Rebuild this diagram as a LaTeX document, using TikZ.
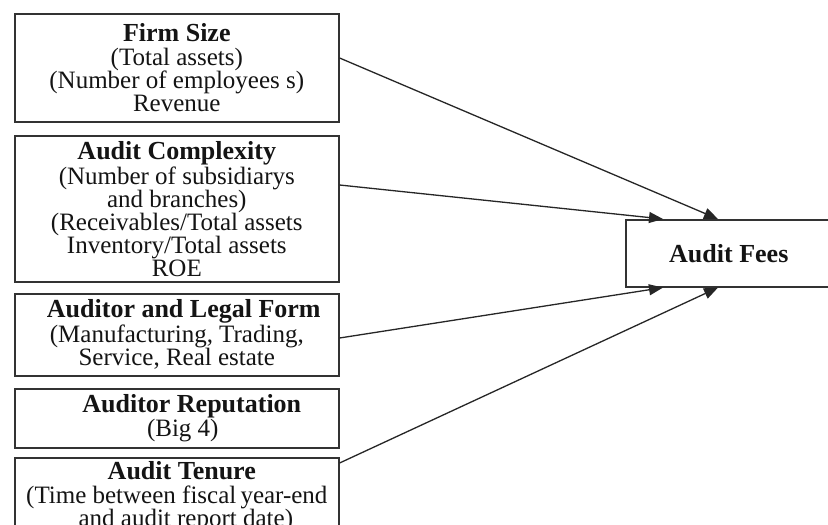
\documentclass[tikz,border=0pt]{standalone}
\usepackage{fontspec}
\setmainfont{Liberation Serif}
\usetikzlibrary{arrows.meta,calc}
\newcommand{\ttl}[1]{{\fontsize{26}{23}\selectfont\bfseries #1}}
\begin{document}
\begin{tikzpicture}[x=1pt,y=-1pt,
  factor/.style={draw=black!80, line width=1.6pt, minimum width=324pt, anchor=north west,
    align=center, inner sep=0pt, text=black!92, font=\fontsize{25}{23}\selectfont},
  link/.style={draw=black!85, line width=1.3pt, -{Triangle[length=14pt,width=11pt]}},
]
\useasboundingbox (0,0) rectangle (828,525);
\fill[white] (0,0) rectangle (828,525);
\clip (0,0) rectangle (828,525);
\node[factor, minimum height=108pt] (size) at (14,13)
  {\ttl{Firm Size}\\[1.5pt](Total assets)\\(Number of employees s)\\Revenue};
\node[factor, minimum height=146pt] (cplx) at (14,135)
  {\ttl{Audit Complexity}\\[0.5pt](Number of subsidiarys\\and branches)\\(Receivables/Total assets\\Inventory/Total assets\\ROE};
\node[factor, minimum height=82pt] (legal) at (14,293)
  {\hspace*{14pt}\ttl{Auditor and Legal Form}\\[0.5pt](Manufacturing, Trading,\hspace*{24pt}\\Service, Real estate};
\node[factor, minimum height=59pt] (rep) at (14,388)
  {\hspace*{30pt}\ttl{Auditor Reputation}\\[1.5pt]\hspace*{12pt}(Big 4)};
\node[factor, minimum height=78pt] (tenure) at (14,457)
  {\hspace*{10pt}\ttl{Audit Tenure}\\[0.5pt](Time between fiscal\,year-end\\\hspace*{18pt}and audit report date)};
\node[factor, minimum width=206pt, minimum height=67pt] (fees) at (625,219)
  {\ttl{Audit Fees}};
\draw[link] ($(size.north east)+(0,45)$) -- ($(fees.north west)+(93,0)$);
\draw[link] ($(cplx.north east)+(0,50)$) -- ($(fees.north west)+(38,0)$);
\draw[link] ($(legal.north east)+(0,45)$) -- ($(fees.south west)+(38,0)$);
\draw[link] ($(tenure.north east)+(0,6)$) -- ($(fees.south west)+(93,0)$);
\end{tikzpicture}
\end{document}
